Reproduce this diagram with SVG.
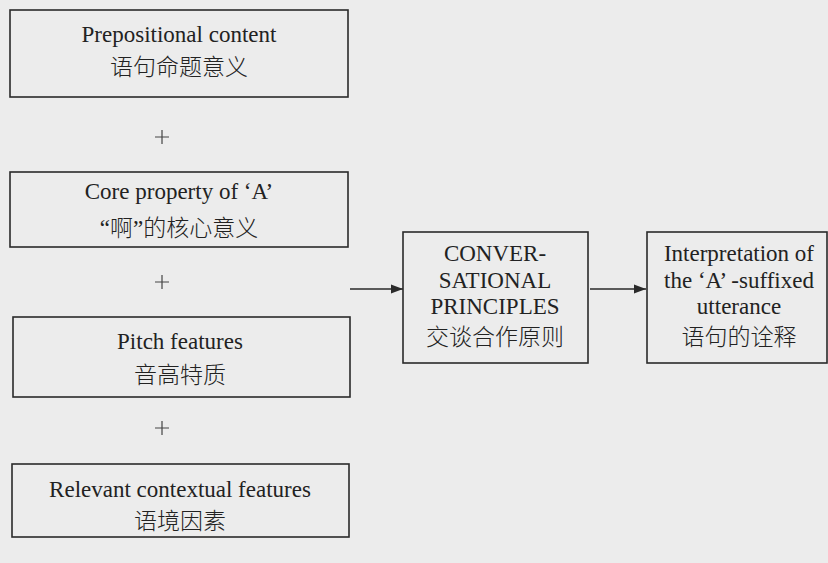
<svg xmlns="http://www.w3.org/2000/svg" width="828" height="563" viewBox="0 0 828 563">
<defs>
<style>
.box{fill:none;stroke:#2a2a2a;stroke-width:1.6}
.t{font-family:"Liberation Serif","Noto Sans CJK SC",serif;font-size:23px;fill:#222;text-anchor:middle}
.c{font-family:"Noto Sans CJK SC",sans-serif;font-size:23px;fill:#222;text-anchor:middle;font-weight:300}
.q{font-family:"Liberation Serif",serif;font-weight:400}
.plus{stroke:#444;stroke-width:1.2}
.line{stroke:#2a2a2a;stroke-width:1.6;fill:none}
</style>
<marker id="ah" viewBox="0 0 12 10" refX="12" refY="5" markerWidth="12" markerHeight="10" markerUnits="userSpaceOnUse" orient="auto">
<path d="M0,0.5 L12,5 L0,9.5 z" fill="#2a2a2a"/>
</marker>
</defs>
<rect width="828" height="563" fill="#ececec"/>
<g id="n1">
<rect class="box" x="10" y="10" width="338" height="87"/>
<text class="t" x="179" y="42">Prepositional content</text>
<text class="c" x="179" y="75">语句命题意义</text>
</g>
<g id="n2">
<rect class="box" x="10" y="172" width="338" height="75"/>
<text class="t" x="179" y="199">Core property of ‘A’</text>
<text class="c" x="179" y="236"><tspan class="q">“</tspan>啊<tspan class="q">”</tspan>的核心意义</text>
</g>
<g id="n3">
<rect class="box" x="13" y="317" width="337" height="80"/>
<text class="t" x="180" y="349">Pitch features</text>
<text class="c" x="180" y="383">音高特质</text>
</g>
<g id="n4">
<rect class="box" x="12" y="464" width="337" height="73"/>
<text class="t" x="180" y="497">Relevant contextual features</text>
<text class="c" x="180" y="529">语境因素</text>
</g>
<g id="n5">
<rect class="box" x="403" y="232" width="185" height="131"/>
<text class="t" x="495" y="261">CONVER-</text>
<text class="t" x="495" y="288">SATIONAL</text>
<text class="t" x="495" y="314">PRINCIPLES</text>
<text class="c" x="495" y="345">交谈合作原则</text>
</g>
<g id="n6">
<rect class="box" x="647" y="232" width="180" height="131"/>
<text class="t" x="739" y="261">Interpretation of</text>
<text class="t" x="739" y="288">the ‘A’ -suffixed</text>
<text class="t" x="739" y="314">utterance</text>
<text class="c" x="739" y="345">语句的诠释</text>
</g>
<g id="plus">
<path class="plus" d="M155,137 H169 M162,130 V144"/>
<path class="plus" d="M155,282 H169 M162,275 V289"/>
<path class="plus" d="M155,428 H169 M162,421 V435"/>
</g>
<g id="connectors">
<path class="line" d="M350,289 H403" marker-end="url(#ah)"/>
<path class="line" d="M590,289 H646" marker-end="url(#ah)"/>
</g>
</svg>
